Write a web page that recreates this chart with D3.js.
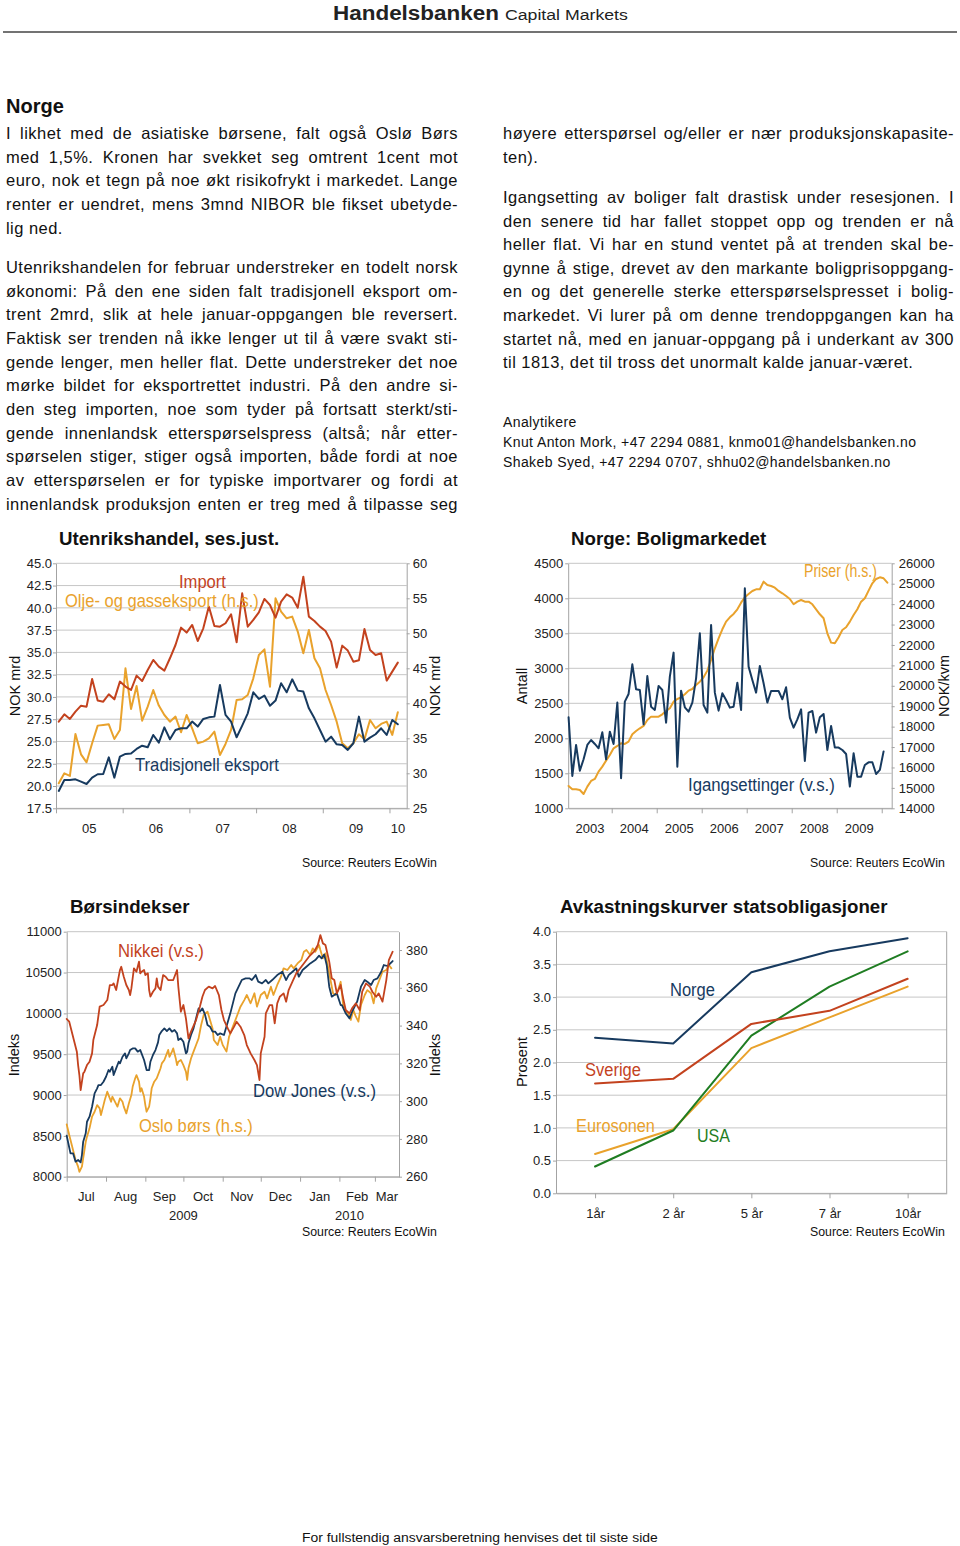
<!DOCTYPE html>
<html><head><meta charset="utf-8">
<script src="https://cdn.jsdelivr.net/npm/d3@7"></script>
<style>body{margin:0;background:#fff}svg{display:block}</style>
</head><body>
<script>
// ================= DATA =================
// Chart 1: Utenrikshandel, monthly Jan 2005 - Feb 2010
const tradeYears = ['05','06','07','08','09','10'];
const importVals = [27.23,28.05,27.53,28.35,29.02,28.91,32.02,29.59,29.47,30.30,29.73,31.72,
 31.16,30.78,32.39,31.79,33.03,34.15,33.40,32.95,34.34,35.83,37.78,37.22,
 38.08,36.28,37.70,40.14,37.97,37.89,38.27,39.28,36.13,41.63,37.89,38.64,
 39.50,41.00,40.32,38.90,40.70,41.52,41.15,40.02,43.50,39.01,38.53,37.89,
 37.40,36.21,33.29,35.76,35.20,33.96,34.11,37.63,35.27,34.71,34.90,31.83,
 32.84,33.85];
const tradExportVals = [19.45,20.68,20.68,20.75,20.49,20.23,20.94,21.32,21.35,23.22,20.94,23.30,
 23.60,23.64,24.16,24.53,24.35,25.73,24.87,26.59,25.25,26.29,26.48,26.48,
 27.23,26.67,27.53,27.71,27.79,31.34,27.98,27.23,25.47,26.78,28.16,30.52,
 29.77,30.15,29.02,29.59,31.53,30.52,31.98,30.71,30.60,28.72,27.60,26.29,
 24.98,25.54,24.68,24.61,24.05,24.80,27.79,24.98,25.43,25.81,26.48,25.73,
 27.41,26.93];
const oilGasVals = [28.57,30.0,29.62,35.62,32.71,31.57,34.29,36.81,36.90,37.0,34.90,36.2,
 45.0,39.19,42.48,37.52,39.52,41.90,39.67,38.33,37.38,38.10,35.86,38.33,
 36.43,34.29,34.52,35.0,35.95,32.62,34.19,36.19,40.48,40.57,41.19,43.57,
 46.90,47.71,42.38,55.0,53.10,52.14,52.38,50.24,47.14,50.48,46.43,45.0,
 41.90,39.76,37.38,34.29,33.57,34.29,35.57,34.86,37.62,36.43,37.05,37.38,
 35.48,38.71];
const tradeLeftTicks = [17.5,20,22.5,25,27.5,30,32.5,35,37.5,40,42.5,45];
const tradeRightTicks = [25,30,35,40,45,50,55,60];

// Chart 2: Boligmarkedet, monthly from Jan 2003
const houseYears = ['2003','2004','2005','2006','2007','2008','2009'];
const startsVals = [2300,1462,1905,1538,1700,1905,1976,1919,1857,2086,1700,2095,
 1919,2510,1429,2524,2633,3057,2700,2690,2200,2890,2452,2405,
 2748,2690,2224,2881,3224,1595,2681,2443,2381,2510,2857,3500,
 2476,2367,3619,2652,2395,2643,2548,2438,2452,2795,2405,4143,
 3024,2833,2652,3033,2786,2510,2676,2676,2676,2557,2729,2295,
 2152,2271,2414,1676,2367,2390,2081,2300,2348,1833,2176,1867,
 1867,1833,1776,1310,1786,1452,1452,1619,1657,1657,1490,1548,
 1813];
const priceVals = [15094,14930,14930,14898,14702,15061,15339,15437,15796,16041,16335,16612,
 16939,17053,17184,17151,17265,17624,17788,17918,18033,18326,18490,18490,
 18490,18604,18767,18898,19224,19355,19437,19584,19763,19845,20041,20204,
 20416,20743,21265,21837,22327,22767,23143,23355,23518,23747,24073,24335,
 24498,24645,24727,24727,25102,24939,24890,24808,24645,24531,24400,24253,
 23992,24122,24204,24122,24122,23992,23747,23502,23306,22571,22114,22082,
 22375,22735,22865,23143,23469,23747,24122,24286,24661,25020,25233,25314,
 25265,25053];
const houseLeftTicks = [1000,1500,2000,2500,3000,3500,4000,4500];
const houseRightTicks = [14000,15000,16000,17000,18000,19000,20000,21000,22000,23000,24000,25000,26000];

// Chart 3: Børsindekser, days since 2009-07-01
const stockMonths = ['Jul','Aug','Sep','Oct','Nov','Dec','Jan','Feb','Mar'];
const stockYears = ['2009','2010'];
const nikkeiDays = [0,2,4,6,8,9,10,11,13,14,16,18,20,21,24,26,29,32,34,36,37,39,42,43,45,47,49,50,51,53,55,57,58,59,61,62,64,65,66,68,70,71,72,74,76,78,80,84,87,88,90,92,94,96,98,102,105,107,109,112,115,117,120,122,124,127,129,132,134,137,140,142,145,148,150,152,153,156,157,160,162,164,166,168,171,173,175,178,181,185,188,191,195,198,200,202,204,207,209,211,213,216,218,220,223,225,228,231,233,236,239,241,244,246,249,252,254,257];
const nikkeiVals = [9931,9898,9776,9653,9531,9367,9245,9061,9265,9286,9367,9408,9510,9673,9857,10082,10102,10163,10347,10347,10367,10286,10531,10571,10449,10347,10286,10224,10306,10551,10510,10633,10490,10510,10531,10469,10490,10286,10204,10265,10306,10429,10327,10286,10469,10449,10408,10408,10531,10327,10020,10102,9939,9694,9776,9918,10082,10204,10286,10327,10306,10335,10224,10041,9918,9816,9755,9837,9898,9837,9735,9612,9510,9429,9367,9184,9510,9714,10000,10102,10102,9878,10122,10204,10245,10143,10286,10388,10490,10571,10633,10694,10755,10837,10959,10857,10837,10633,10429,10408,10245,10347,10184,10041,10000,10061,10122,10041,10265,10367,10327,10265,10204,10245,10143,10408,10653,10755];
const dowDays = [0,3,5,7,9,11,12,13,15,16,18,20,21,22,24,25,27,29,31,33,34,36,37,39,41,42,44,46,47,49,50,52,54,56,58,59,61,63,65,66,68,70,72,73,75,77,79,81,83,85,87,88,90,92,94,95,96,98,100,102,104,105,107,109,111,113,115,117,119,121,124,129,133,138,141,144,146,149,151,154,157,159,162,166,170,173,175,178,181,183,186,189,192,196,199,201,203,205,207,209,211,213,216,217,220,223,225,227,229,232,235,237,240,242,245,248,250,253,257];
const dowVals = [8502,8286,8286,8184,8204,8176,8265,8429,8531,8673,8735,8857,8939,9020,9082,9122,9122,9163,9224,9306,9286,9347,9245,9327,9408,9388,9469,9510,9449,9510,9551,9571,9571,9531,9551,9510,9429,9306,9306,9408,9490,9551,9645,9735,9784,9816,9784,9816,9776,9796,9755,9673,9694,9653,9510,9531,9633,9735,9816,9939,10061,10020,10061,9988,9857,9837,9776,9776,9735,9755,9735,10000,10245,10408,10429,10429,10408,10469,10388,10367,10408,10367,10408,10469,10510,10408,10469,10510,10551,10449,10531,10571,10612,10653,10706,10673,10722,10592,10327,10204,10224,10245,10102,10102,10000,9939,10020,10082,10143,10327,10408,10388,10347,10408,10429,10510,10592,10580,10641];
const osloDays = [0,2,4,6,7,9,10,12,13,15,16,18,20,22,24,26,27,29,30,32,33,35,36,38,40,42,44,45,47,49,51,52,54,55,57,58,59,61,62,63,65,66,67,69,71,73,74,75,77,79,80,81,83,84,86,87,88,90,92,94,95,96,98,100,102,104,106,108,111,113,115,116,119,121,123,126,128,129,132,134,137,140,142,145,148,150,153,156,158,161,163,166,169,171,174,177,179,182,185,187,189,192,194,196,199,200,202,204,207,210,212,214,216,218,220,222,224,226,228,230,232,235,237,240,242,244,246,249,252,254,256];
const osloVals = [287.7,282.1,276.8,271.5,268.8,265.3,262.6,265.3,269.7,278.5,281.2,285.6,291.8,294.4,297.9,296.2,292.6,297.9,300.6,305.0,303.2,299.7,302.4,299.7,297.1,301.5,299.7,297.1,293.5,298.8,303.2,307.6,312.1,313.8,310.3,305.0,306.8,302.4,297.9,294.4,297.1,301.5,306.8,310.3,312.1,315.6,317.4,320.0,321.8,325.3,327.1,323.5,326.2,327.9,322.6,319.1,320.9,321.8,319.1,315.6,311.2,317.4,322.6,326.2,329.7,333.2,340.3,345.6,347.4,342.9,338.5,332.4,329.7,334.1,329.7,326.2,334.1,335.9,341.2,344.7,350.0,353.5,356.2,351.8,357.1,350.0,356.2,357.9,354.4,360.6,356.2,361.5,365.9,370.3,369.4,372.1,370.3,372.9,374.7,379.1,380.0,377.4,380.9,379.1,382.6,380.0,375.6,378.2,367.6,357.1,356.2,358.8,363.2,350.9,347.4,346.5,343.0,348.2,344.7,342.1,350.9,356.2,358.8,357.1,351.8,359.7,363.2,368.5,369.4,372.1,370.3];
const stockLeftTicks = [8000,8500,9000,9500,10000,10500,11000];
const stockRightTicks = [260,280,300,320,340,360,380];

// Chart 4: Avkastningskurver
const maturities = ['1år','2 år','5 år','7 år','10år'];
const norgeYield = [2.38,2.29,3.38,3.70,3.90];
const sverigeYield = [1.68,1.75,2.59,2.79,3.28];
const usaYield = [0.41,0.96,2.41,3.16,3.70];
const euroYield = [0.60,0.98,2.22,2.69,3.16];
const yieldTicks = [0,0.5,1,1.5,2,2.5,3,3.5,4];

// Text
const leftP1 = ["I likhet med de asiatiske børsene, falt også Oslø Børs",
"med 1,5%. Kronen har svekket seg omtrent 1cent mot",
"euro, nok et tegn på noe økt risikofrykt i markedet. Lange",
"renter er uendret, mens 3mnd NIBOR ble fikset ubetyde-",
"lig ned."];
const leftP2 = ["Utenrikshandelen for februar understreker en todelt norsk",
"økonomi: På den ene siden falt tradisjonell eksport om-",
"trent 2mrd, slik at hele januar-oppgangen ble reversert.",
"Faktisk ser trenden nå ikke lenger ut til å være svakt sti-",
"gende lenger, men heller flat. Dette understreker det noe",
"mørke bildet for eksportrettet industri. På den andre si-",
"den steg importen, noe som tyder på fortsatt sterkt/sti-",
"gende innenlandsk etterspørselspress (altså; når etter-",
"spørselen stiger, stiger også importen, både fordi at noe",
"av etterspørselen er for typiske importvarer og fordi at",
"innenlandsk produksjon enten er treg med å tilpasse seg"];
const rightP1 = ["høyere etterspørsel og/eller er nær produksjonskapasite-","ten)."];
const rightP2 = ["Igangsetting av boliger falt drastisk under resesjonen. I",
"den senere tid har fallet stoppet opp og trenden er nå",
"heller flat. Vi har en stund ventet på at trenden skal be-",
"gynne å stige, drevet av den markante boligprisoppgang-",
"en og det generelle sterke etterspørselspresset i bolig-",
"markedet. Vi lurer på om denne trendoppgangen kan ha",
"startet nå, med en januar-oppgang på i underkant av 300",
"til 1813, det til tross det unormalt kalde januar-været."];
const analysts = ["Analytikere","Knut Anton Mork, +47 2294 0881, knmo01@handelsbanken.no","Shakeb Syed, +47 2294 0707, shhu02@handelsbanken.no"];

// ================= DRAWING =================
const FONT = "'Liberation Sans', Arial, Helvetica, sans-serif";
const C = {navy:'#173a5f', red:'#c3421e', orange:'#e9a22c', green:'#1f7d22', grid:'#c6c6c6', axis:'#a3a3a3', text:'#111', tick:'#222'};

const svg = d3.select('body').append('svg').attr('width',960).attr('height',1546);
svg.append('rect').attr('width',960).attr('height',1546).attr('fill','#fff');

// squeezed text: regular font scaled horizontally to a target width
function squeezed(parent, x, y, s, size, w, color, weight){
  const t = parent.append('text').attr('x',0).attr('y',0).attr('font-family',FONT)
    .attr('font-size',size).attr('fill',color).text(s);
  if(weight) t.attr('font-weight',weight);
  const nat = t.node().getComputedTextLength();
  const sx = nat>0 ? w/nat : 1;
  t.attr('transform',`translate(${x},${y}) scale(${sx},1)`);
  return t;
}

// Header
squeezed(svg, 333, 19.5, 'Handelsbanken', 21, 166, '#222', 'bold');
squeezed(svg, 505, 19.5, 'Capital Markets', 15, 123, '#222');
svg.append('line').attr('x1',3).attr('x2',957).attr('y1',32).attr('y2',32).attr('stroke','#444').attr('stroke-width',1.5);

// Body text
const BODY = 16.5, BODY_LS = 0.45;
function textLine(x, y, str, width, justify, size, ls){
  const t = svg.append('text').attr('x',x).attr('y',y).attr('font-family',FONT)
    .attr('font-size',size).attr('fill',C.text).style('letter-spacing',ls+'px').text(str);
  if(justify){
    const len = t.node().getComputedTextLength();
    const spaces = (str.match(/ /g)||[]).length;
    if(spaces>0){
      t.style('word-spacing', ((width-len)/spaces)+'px');
      const len2 = t.node().getComputedTextLength();
      if(Math.abs(len2-width) > 3) t.style('word-spacing',null).attr('textLength',width).attr('lengthAdjust','spacing');
    }
  }
  return t;
}
function para(lines, x, y0, pitch, width, lastJustified){
  lines.forEach((s,i)=>textLine(x, y0+i*pitch, s, width, lastJustified || i<lines.length-1, BODY, BODY_LS));
}
svg.append('text').attr('x',6).attr('y',113).attr('font-family',FONT).attr('font-weight','bold')
  .attr('font-size',20).attr('fill',C.text).text('Norge');
para(leftP1, 6, 139, 23.65, 452, false);
para(leftP2, 6, 273, 23.65, 452, true);
para(rightP1, 503, 139, 23.65, 451, false);
para(rightP2, 503, 203, 23.6, 451, false);
analysts.forEach((s,i)=>textLine(503, 427+i*20, s, 0, false, 14, 0.4));

squeezed(svg, 302, 1542, 'For  fullstendig ansvarsberetning henvises det til siste side', 13.5, 356, C.text);

// ---- helpers ----
function styleAxis(sel){
  sel.attr('font-family',FONT).attr('font-size',13);
  sel.select('.domain').attr('stroke',C.axis);
  sel.selectAll('.tick line').attr('stroke',C.axis);
  sel.selectAll('.tick text').attr('fill',C.tick);
}
function grid(g, ticks, y, x0, x1){
  g.append('g').selectAll('line').data(ticks).join('line')
    .attr('x1',x0).attr('x2',x1).attr('y1',d=>y(d)).attr('y2',d=>y(d))
    .attr('stroke',C.grid).attr('stroke-width',1);
}
function title(g, x, y, s){
  g.append('text').attr('x',x).attr('y',y).attr('font-family',FONT).attr('font-weight','bold')
   .attr('font-size',18.7).attr('fill','#111').text(s);
}
function label(g, x, y, s, color, w){ return squeezed(g, x, y, s, 18.5, w, color); }
function vtitle(g, x, y, s){
  g.append('text').attr('transform',`translate(${x},${y}) rotate(-90)`).attr('text-anchor','middle')
   .attr('font-family',FONT).attr('font-size',14.5).attr('fill','#111').text(s);
}
function source(g, xEnd, y){ squeezed(g, xEnd-136, y, 'Source: Reuters EcoWin', 13.5, 135, '#111'); }
function path(g, data, line, color, w){
  g.append('path').datum(data).attr('d',line).attr('fill','none').attr('stroke',color)
   .attr('stroke-width',w).attr('stroke-linejoin','round').attr('stroke-linecap','round');
}

// ---- Chart 1: Utenrikshandel ----
(function(){
  const g = svg.append('g');
  const x0=56, x1=406.7, y0=563.3, y1=808.3;
  const x = d3.scaleLinear().domain([0,63.1]).range([x0,x1]);
  const yL = d3.scaleLinear().domain([17.5,45]).range([y1,y0]);
  const yR = d3.scaleLinear().domain([25,60]).range([y1,y0]);
  grid(g, tradeLeftTicks, yL, x0, x1);
  g.append('g').attr('transform',`translate(${x0},0)`)
    .call(d3.axisLeft(yL).tickValues(tradeLeftTicks).tickFormat(d3.format('.1f')).tickSize(3).tickSizeOuter(0).tickPadding(1)).call(styleAxis);
  g.append('g').attr('transform',`translate(${x1},0)`)
    .call(d3.axisRight(yR).tickValues(tradeRightTicks).tickSize(3).tickSizeOuter(0).tickPadding(3)).call(styleAxis);
  const yearTicks = tradeYears.map((d,i)=>i*12);
  g.append('g').attr('transform',`translate(0,${y1})`)
    .call(d3.axisBottom(x).tickValues(yearTicks).tickFormat('').tickSize(5).tickSizeOuter(0)).call(styleAxis);
  g.append('g').selectAll('text').data(tradeYears).join('text')
    .attr('x',(d,i)=>x((i*12 + Math.min(i*12+12, 63.1))/2)).attr('y',832.5).attr('text-anchor','middle')
    .attr('font-family',FONT).attr('font-size',13).attr('fill',C.tick).text(d=>d);
  const lineL = d3.line().x((d,i)=>x(i+0.5)).y(d=>yL(d));
  const lineR = d3.line().x((d,i)=>x(i+0.5)).y(d=>yR(d));
  path(g, oilGasVals, lineR, C.orange, 2);
  path(g, importVals, lineL, C.red, 2);
  path(g, tradExportVals, lineL, C.navy, 2);
  title(g, 59, 545, 'Utenrikshandel, ses.just.');
  label(g, 179, 588, 'Import', C.red, 47);
  label(g, 65, 607, 'Olje- og gasseksport (h.s.)', C.orange, 194);
  label(g, 135, 771, 'Tradisjonell eksport', C.navy, 144);
  vtitle(g, 20, 686, 'NOK mrd');
  vtitle(g, 440, 686, 'NOK mrd');
  source(g, 438, 867);
})();

// ---- Chart 2: Boligmarkedet ----
(function(){
  const g = svg.append('g');
  const x0=568.2, x1=891.7, y0=563.3, y1=808.3;
  const x = d3.scaleLinear().domain([0.4,86.66]).range([x0,x1]);
  const yL = d3.scaleLinear().domain([1000,4500]).range([y1,y0]);
  const yR = d3.scaleLinear().domain([14000,26000]).range([y1,y0]);
  grid(g, houseLeftTicks, yL, x0, x1);
  g.append('g').attr('transform',`translate(${x0},0)`)
    .call(d3.axisLeft(yL).tickValues(houseLeftTicks).tickFormat(d3.format('d')).tickSize(3).tickSizeOuter(0).tickPadding(2)).call(styleAxis);
  g.append('g').attr('transform',`translate(${x1},0)`)
    .call(d3.axisRight(yR).tickValues(houseRightTicks).tickFormat(d3.format('d')).tickSize(3).tickSizeOuter(0).tickPadding(4)).call(styleAxis);
  const yearTicks = houseYears.map((d,i)=>(i+1)*12);
  g.append('g').attr('transform',`translate(0,${y1})`)
    .call(d3.axisBottom(x).tickValues(yearTicks).tickFormat('').tickSize(5).tickSizeOuter(0)).call(styleAxis);
  g.append('g').selectAll('text').data(houseYears).join('text')
    .attr('x',(d,i)=>x((Math.max(i*12,0.4) + Math.min(i*12+12, 86.66))/2)).attr('y',832.5).attr('text-anchor','middle')
    .attr('font-family',FONT).attr('font-size',13).attr('fill',C.tick).text(d=>d);
  path(g, priceVals, d3.line().x((d,i)=>x(i+0.5)).y(d=>yR(d)), C.orange, 2);
  path(g, startsVals, d3.line().x((d,i)=>x(i+0.5)).y(d=>yL(d)), C.navy, 2);
  title(g, 571, 545, 'Norge: Boligmarkedet');
  label(g, 804, 577, 'Priser (h.s.)', C.orange, 73);
  label(g, 688, 791, 'Igangsettinger (v.s.)', C.navy, 147);
  vtitle(g, 527, 686, 'Antall');
  vtitle(g, 949, 686, 'NOK/kvm');
  source(g, 946, 867);
})();

// ---- Chart 3: Børsindekser ----
(function(){
  const g = svg.append('g');
  const x0=66.7, x1=399, y0=931.7, y1=1176.7;
  const start = new Date(2009,6,1), end = new Date(2010,2,20);
  const x = d3.scaleTime().domain([start,end]).range([x0,x1]);
  const yL = d3.scaleLinear().domain([8000,11000]).range([y1,y0]);
  const yR = d3.scaleLinear().domain([260,389.7]).range([y1,y0]);
  grid(g, stockLeftTicks, yL, x0, x1);
  g.append('g').attr('transform',`translate(${x0},0)`)
    .call(d3.axisLeft(yL).tickValues(stockLeftTicks).tickFormat(d3.format('d')).tickSize(3).tickSizeOuter(0).tickPadding(2)).call(styleAxis);
  g.append('g').attr('transform',`translate(${x1},0)`)
    .call(d3.axisRight(yR).tickValues(stockRightTicks).tickSize(3).tickSizeOuter(0).tickPadding(4)).call(styleAxis);
  const monthStarts = d3.timeMonth.range(start, new Date(2010,2,2));
  g.append('g').attr('transform',`translate(0,${y1})`)
    .call(d3.axisBottom(x).tickValues(monthStarts).tickFormat('').tickSize(5).tickSizeOuter(0)).call(styleAxis);
  g.append('g').selectAll('text').data(stockMonths).join('text')
    .attr('x',(d,i)=>{const a=monthStarts[i]; const b=d3.min([d3.timeMonth.offset(a,1), end]); return (x(a)+x(b))/2;})
    .attr('y',1200.5).attr('text-anchor','middle')
    .attr('font-family',FONT).attr('font-size',13).attr('fill',C.tick).text(d=>d);
  const yearSpans = [[start,new Date(2010,0,1)],[new Date(2010,0,1),end]];
  g.append('g').selectAll('text').data(stockYears).join('text')
    .attr('x',(d,i)=>(x(yearSpans[i][0])+x(yearSpans[i][1]))/2).attr('y',1219.5).attr('text-anchor','middle')
    .attr('font-family',FONT).attr('font-size',13).attr('fill',C.tick).text(d=>d);
  const day = d=>d3.timeDay.offset(start,d);
  const lineL = d3.line().x(d=>x(day(d[0]))).y(d=>yL(d[1]));
  const lineR = d3.line().x(d=>x(day(d[0]))).y(d=>yR(d[1]));
  path(g, d3.zip(osloDays, osloVals), lineR, C.orange, 1.8);
  path(g, d3.zip(dowDays, dowVals), lineL, C.navy, 1.8);
  path(g, d3.zip(nikkeiDays, nikkeiVals), lineL, C.red, 1.8);
  title(g, 70, 913, 'Børsindekser');
  label(g, 118, 957, 'Nikkei (v.s.)', C.red, 86);
  label(g, 253, 1097, 'Dow Jones (v.s.)', C.navy, 123);
  label(g, 139, 1132, 'Oslo børs (h.s.)', C.orange, 114);
  vtitle(g, 19, 1055, 'Indeks');
  vtitle(g, 440, 1055, 'Indeks');
  source(g, 438, 1236);
})();

// ---- Chart 4: Avkastningskurver ----
(function(){
  const g = svg.append('g');
  const x0=556, x1=946.7, y0=931.7, y1=1193.3;
  const x = d3.scalePoint().domain(maturities).range([x0,x1]).padding(0.5);
  const y = d3.scaleLinear().domain([0,4]).range([y1,y0]);
  grid(g, yieldTicks, y, x0, x1);
  g.append('g').attr('transform',`translate(${x0},0)`)
    .call(d3.axisLeft(y).tickValues(yieldTicks).tickFormat(d3.format('.1f')).tickSize(3).tickSizeOuter(0).tickPadding(2)).call(styleAxis);
  g.append('line').attr('x1',x1).attr('x2',x1).attr('y1',y0).attr('y2',y1).attr('stroke',C.axis);
  g.append('g').attr('transform',`translate(0,${y1})`)
    .call(d3.axisBottom(x).tickSize(5).tickSizeOuter(0).tickPadding(10)).call(styleAxis);
  const line = d3.line().x((d,i)=>x(maturities[i])).y(d=>y(d));
  path(g, euroYield, line, C.orange, 2);
  path(g, usaYield, line, C.green, 2);
  path(g, sverigeYield, line, C.red, 2);
  path(g, norgeYield, line, C.navy, 2);
  title(g, 560, 913, 'Avkastningskurver statsobligasjoner');
  label(g, 670, 996, 'Norge', C.navy, 45);
  label(g, 585, 1076, 'Sverige', C.red, 56);
  label(g, 576, 1132, 'Eurosonen', C.orange, 79);
  label(g, 697, 1142, 'USA', C.green, 33);
  vtitle(g, 527, 1062, 'Prosent');
  source(g, 946, 1236);
})();
</script>
</body></html>
